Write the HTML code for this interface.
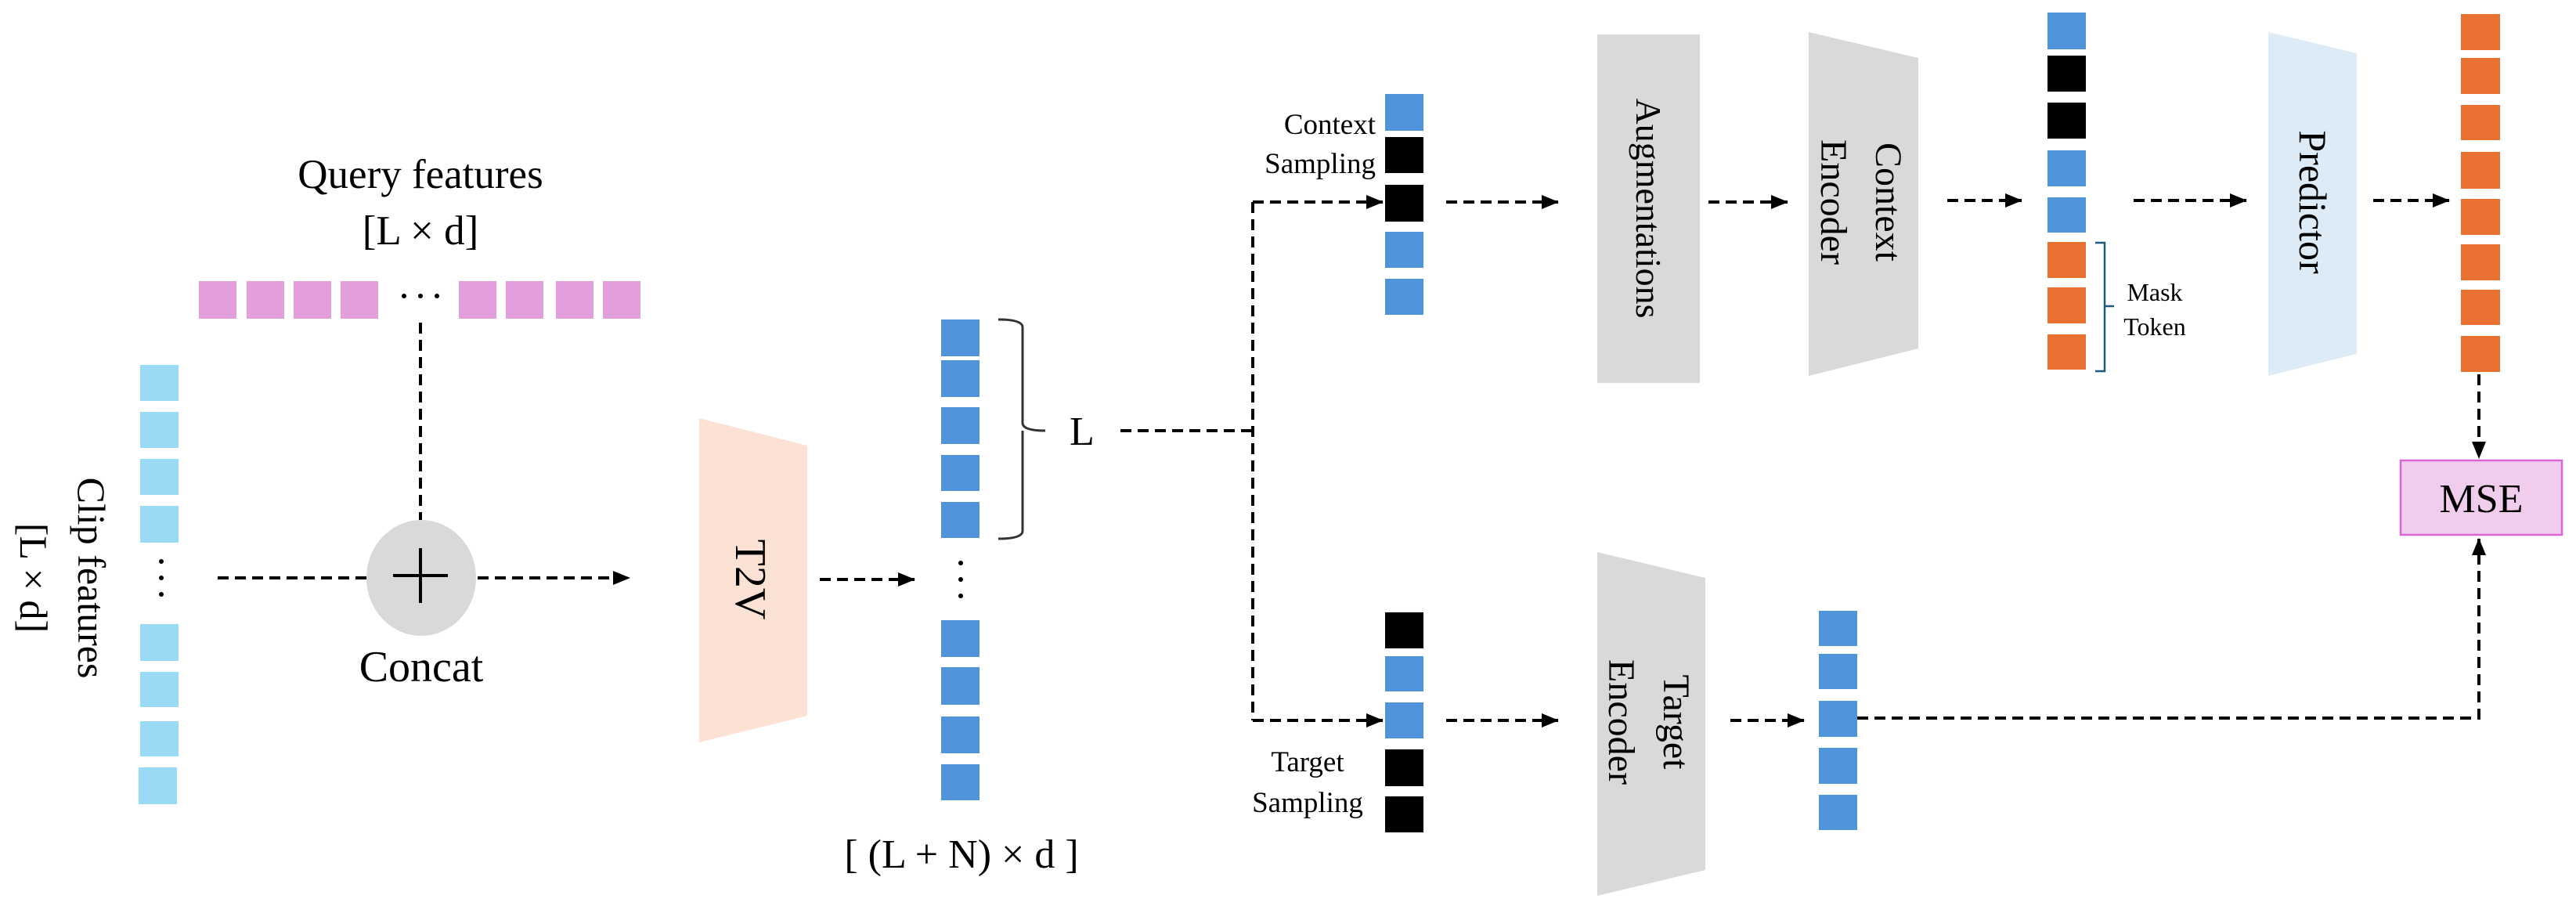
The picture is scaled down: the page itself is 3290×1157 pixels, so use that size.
<!DOCTYPE html>
<html><head><meta charset="utf-8"><style>
html,body{margin:0;padding:0;background:#fff;}
svg{display:block;}
svg text{font-family:"Liberation Serif","DejaVu Serif",serif !important;fill:#000;}
</style></head><body>
<svg width="3290" height="1157" viewBox="0 0 3290 1157" xmlns="http://www.w3.org/2000/svg" font-family="'Liberation Serif', 'DejaVu Serif', serif">
<defs>
<marker id="ah2" markerWidth="22" markerHeight="18" refX="21" refY="9" orient="auto" markerUnits="userSpaceOnUse">
<path d="M0,0 L22,9 L0,18 Z" fill="#000"/>
</marker>
</defs>
<g stroke="#000" stroke-width="4" stroke-dasharray="14,8" fill="none">
<line x1="537" y1="412" x2="537" y2="664"/>
<line x1="278" y1="738" x2="468" y2="738"/>
<line x1="610" y1="738" x2="804" y2="738" marker-end="url(#ah2)"/>
<line x1="1047" y1="740" x2="1168" y2="740" marker-end="url(#ah2)"/>
<line x1="1431" y1="550" x2="1600" y2="550"/>
<line x1="1600" y1="258" x2="1600" y2="920"/>
<line x1="1600" y1="258" x2="1766" y2="258" marker-end="url(#ah2)"/>
<line x1="1600" y1="920" x2="1766" y2="920" marker-end="url(#ah2)"/>
<line x1="1847" y1="258" x2="1990" y2="258" marker-end="url(#ah2)"/>
<line x1="1847" y1="920" x2="1990" y2="920" marker-end="url(#ah2)"/>
<line x1="2182" y1="258" x2="2283" y2="258" marker-end="url(#ah2)"/>
<line x1="2487" y1="256" x2="2582" y2="256" marker-end="url(#ah2)"/>
<line x1="2725" y1="256" x2="2869" y2="256" marker-end="url(#ah2)"/>
<line x1="3031" y1="256" x2="3128" y2="256" marker-end="url(#ah2)"/>
<line x1="3166" y1="478" x2="3166" y2="585" marker-end="url(#ah2)"/>
<line x1="2210" y1="920" x2="2304" y2="920" marker-end="url(#ah2)"/>
<polyline points="2372,917 3166,917 3166,688" marker-end="url(#ah2)"/>
</g>
<text font-family="Liberation Serif, serif" x="537" y="240" font-size="53" text-anchor="middle">Query features</text>
<text font-family="Liberation Serif, serif" x="537" y="312" font-size="53" text-anchor="middle">[L × d]</text>
<g fill="#e29fdb">
<rect x="254" y="359" width="48" height="48"/><rect x="315" y="359" width="48" height="48"/>
<rect x="375" y="359" width="48" height="48"/><rect x="435" y="359" width="48" height="48"/>
<rect x="586" y="359" width="48" height="48"/><rect x="646" y="359" width="48" height="48"/>
<rect x="710" y="359" width="48" height="48"/><rect x="770" y="359" width="48" height="48"/>
</g>
<g fill="#000"><circle cx="516" cy="378" r="3"/><circle cx="537" cy="378" r="3"/><circle cx="558" cy="378" r="3"/></g>
<g fill="#99dbf5">
<rect x="179" y="466" width="49" height="46"/><rect x="179" y="526" width="49" height="46"/>
<rect x="179" y="586" width="49" height="46"/><rect x="179" y="646" width="49" height="47"/>
<rect x="179" y="797" width="49" height="47"/><rect x="179" y="858" width="49" height="45"/>
<rect x="179" y="921" width="49" height="45"/><rect x="177" y="980" width="49" height="47"/>
</g>
<g fill="#000"><circle cx="206" cy="717" r="3"/><circle cx="206" cy="738" r="3"/><circle cx="206" cy="759" r="3"/></g>
<text font-family="Liberation Serif, serif" transform="translate(100,738) rotate(90)" font-size="50" text-anchor="middle">Clip features</text>
<text font-family="Liberation Serif, serif" transform="translate(26,738) rotate(90)" font-size="50" text-anchor="middle">[L × d]</text>
<ellipse cx="538" cy="738" rx="70" ry="74" fill="#d9d9d9"/>
<line x1="502" y1="735" x2="572" y2="735" stroke="#000" stroke-width="4"/>
<line x1="537" y1="700" x2="537" y2="770" stroke="#000" stroke-width="4"/>
<text font-family="Liberation Serif, serif" x="538" y="870" font-size="56" text-anchor="middle">Concat</text>
<polygon points="893,534 1031,569 1031,914 893,948" fill="#fbe2d5"/>
<text font-family="Liberation Serif, serif" transform="translate(940,740) rotate(90)" font-size="56" text-anchor="middle">T2V</text>
<g fill="#4f94d9">
<rect x="1202" y="408" width="49" height="47"/><rect x="1202" y="460" width="49" height="47"/>
<rect x="1202" y="520" width="49" height="47"/><rect x="1202" y="581" width="49" height="46"/>
<rect x="1202" y="641" width="49" height="46"/><rect x="1202" y="792" width="49" height="47"/>
<rect x="1202" y="852" width="49" height="48"/><rect x="1202" y="915" width="49" height="47"/>
<rect x="1202" y="976" width="49" height="46"/>
</g>
<g fill="#000"><circle cx="1227" cy="719" r="3"/><circle cx="1227" cy="740" r="3"/><circle cx="1227" cy="761" r="3"/></g>
<path d="M1275,408 Q1306,408 1306,418 L1306,540 Q1306,550 1335,550 M1306,550 Q1306,560 1306,570 L1306,678 Q1306,688 1275,688" stroke="#333" stroke-width="3" fill="none"/>
<text font-family="Liberation Serif, serif" x="1366" y="568" font-size="52">L</text>
<text font-family="Liberation Serif, serif" x="1228" y="1108" font-size="52" text-anchor="middle">[ (L + N) × d ]</text>
<text font-family="Liberation Serif, serif" x="1757" y="171" font-size="37" text-anchor="end">Context</text>
<text font-family="Liberation Serif, serif" x="1757" y="221" font-size="37" text-anchor="end">Sampling</text>
<rect x="1769" y="120" width="49" height="47" fill="#4f94d9"/>
<rect x="1769" y="175" width="49" height="46" fill="#000"/>
<rect x="1769" y="236" width="49" height="47" fill="#000"/>
<rect x="1769" y="296" width="49" height="46" fill="#4f94d9"/>
<rect x="1769" y="356" width="49" height="46" fill="#4f94d9"/>
<text font-family="Liberation Serif, serif" x="1670" y="985" font-size="37" text-anchor="middle">Target</text>
<text font-family="Liberation Serif, serif" x="1670" y="1037" font-size="37" text-anchor="middle">Sampling</text>
<rect x="1769" y="782" width="49" height="46" fill="#000"/>
<rect x="1769" y="838" width="49" height="45" fill="#4f94d9"/>
<rect x="1769" y="897" width="49" height="46" fill="#4f94d9"/>
<rect x="1769" y="957" width="49" height="47" fill="#000"/>
<rect x="1769" y="1017" width="49" height="46" fill="#000"/>
<rect x="2040" y="44" width="131" height="445" fill="#d9d9d9"/>
<text font-family="Liberation Serif, serif" transform="translate(2090,266) rotate(90)" font-size="46" text-anchor="middle">Augmentations</text>
<polygon points="2040,705 2178,738 2178,1111 2040,1144" fill="#d9d9d9"/>
<text font-family="Liberation Serif, serif" transform="translate(2125,922) rotate(90)" font-size="48" text-anchor="middle">Target</text>
<text font-family="Liberation Serif, serif" transform="translate(2055,922) rotate(90)" font-size="48" text-anchor="middle">Encoder</text>
<polygon points="2310,41 2450,74 2450,445 2310,480" fill="#d9d9d9"/>
<text font-family="Liberation Serif, serif" transform="translate(2396,258) rotate(90)" font-size="48" text-anchor="middle">Context</text>
<text font-family="Liberation Serif, serif" transform="translate(2326,258) rotate(90)" font-size="48" text-anchor="middle">Encoder</text>
<rect x="2615" y="16" width="49" height="47" fill="#4f94d9"/>
<rect x="2615" y="71" width="49" height="46" fill="#000"/>
<rect x="2615" y="131" width="49" height="46" fill="#000"/>
<rect x="2615" y="192" width="49" height="46" fill="#4f94d9"/>
<rect x="2615" y="252" width="49" height="45" fill="#4f94d9"/>
<rect x="2615" y="309" width="49" height="46" fill="#e97132"/>
<rect x="2615" y="367" width="49" height="46" fill="#e97132"/>
<rect x="2615" y="427" width="49" height="45" fill="#e97132"/>
<path d="M2676,310 L2688,310 L2688,474 L2676,474 M2688,391 L2700,391" stroke="#1f5a82" stroke-width="2.5" fill="none"/>
<text font-family="Liberation Serif, serif" x="2752" y="384" font-size="32" text-anchor="middle">Mask</text>
<text font-family="Liberation Serif, serif" x="2752" y="428" font-size="32" text-anchor="middle">Token</text>
<polygon points="2897,41 3010,68 3010,452 2897,480" fill="#ddebf7"/>
<text font-family="Liberation Serif, serif" transform="translate(2937,258) rotate(90)" font-size="50" text-anchor="middle">Predictor</text>
<g fill="#e97132">
<rect x="3143" y="18" width="50" height="46"/><rect x="3143" y="74" width="50" height="46"/>
<rect x="3143" y="134" width="50" height="45"/><rect x="3143" y="194" width="50" height="47"/>
<rect x="3143" y="254" width="50" height="46"/><rect x="3143" y="312" width="50" height="46"/>
<rect x="3143" y="370" width="50" height="45"/><rect x="3143" y="429" width="50" height="46"/>
</g>
<rect x="3066" y="588" width="206" height="95" fill="#f0cdec" stroke="#d966d5" stroke-width="2.5"/>
<text font-family="Liberation Serif, serif" x="3169" y="654" font-size="52" text-anchor="middle">MSE</text>
<g fill="#4f94d9">
<rect x="2323" y="780" width="49" height="45"/><rect x="2323" y="835" width="49" height="45"/>
<rect x="2323" y="895" width="49" height="46"/><rect x="2323" y="955" width="49" height="46"/>
<rect x="2323" y="1015" width="49" height="45"/>
</g>
</svg>
</body></html>
